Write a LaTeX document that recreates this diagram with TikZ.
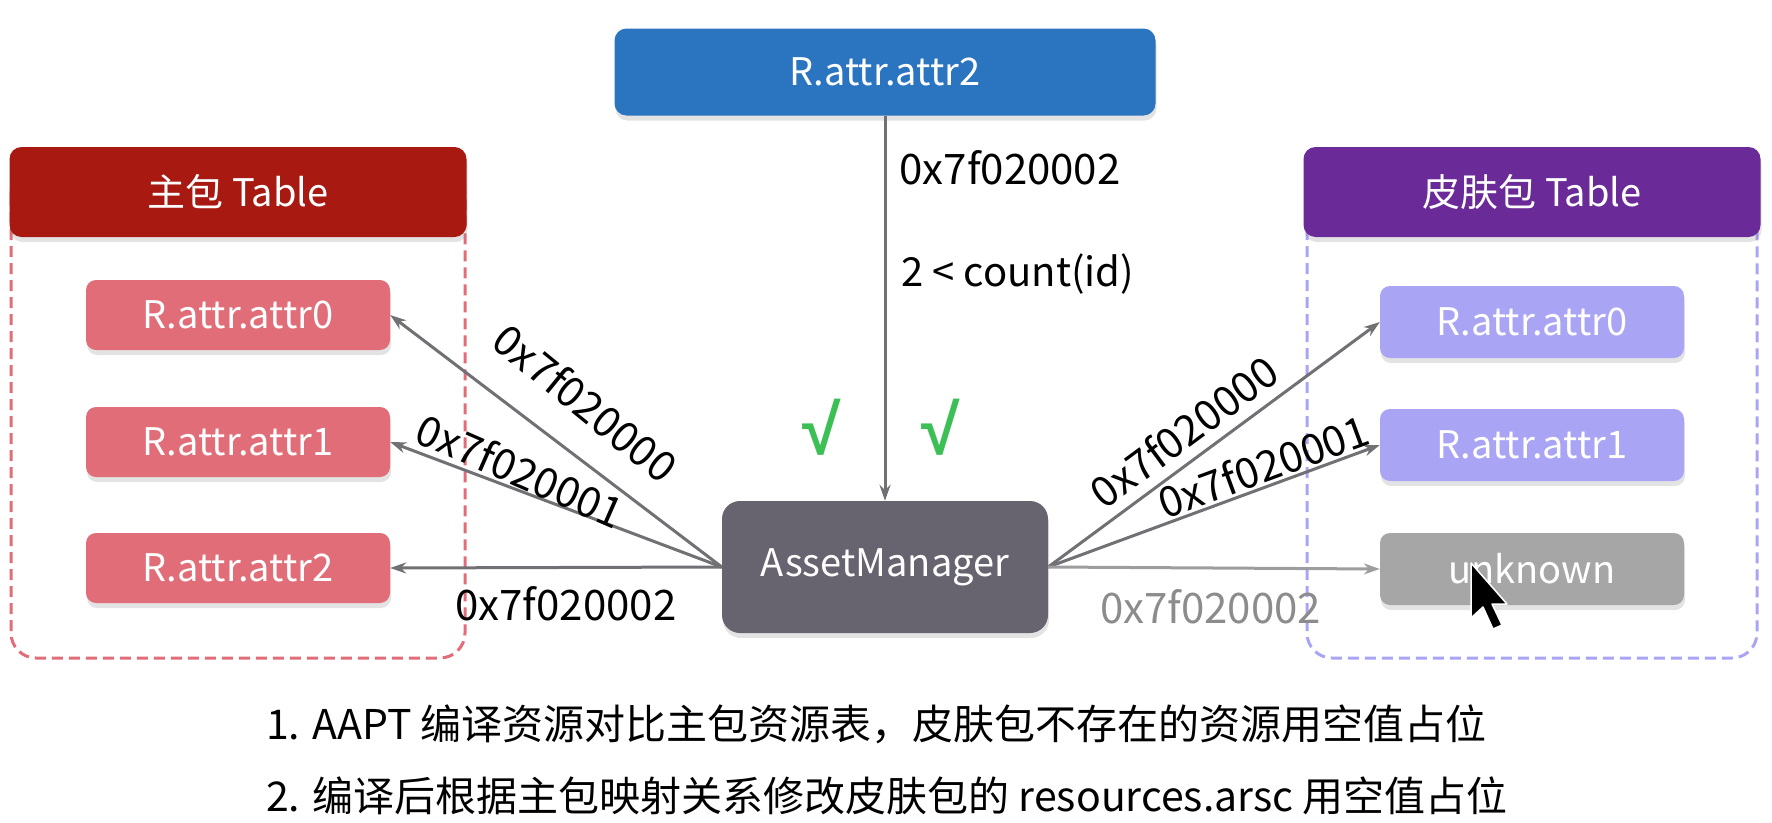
\documentclass[tikz,border=0pt]{standalone}
\usepackage{fontspec}
\setmainfont{Noto Sans CJK SC}
\newfontfamily\chkfont{Liberation Sans}
\usetikzlibrary{arrows.meta,shadows}
\definecolor{topblue}{HTML}{2B74BF}
\definecolor{lred}{HTML}{A81911}
\definecolor{litem}{HTML}{E06D77}
\definecolor{rpurple}{HTML}{6A2A98}
\definecolor{ritem}{HTML}{A9A4F4}
\definecolor{unk}{HTML}{A6A6A6}
\definecolor{amgray}{HTML}{67636F}
\definecolor{arr}{HTML}{707075}
\definecolor{arrlight}{HTML}{9D9DA0}
\definecolor{labgray}{HTML}{8C8C8C}
\definecolor{chk}{HTML}{3CBF55}
\tikzset{
  box/.style={rectangle, rounded corners=12pt, text=white, inner sep=0pt,
    font=\fontsize{38}{46}\selectfont,
    drop shadow={opacity=0.22, shadow xshift=1pt, shadow yshift=-5pt}},
  conn/.style={draw=arr, line width=3pt, -{Stealth[length=16pt,width=11pt]}},
  lab/.style={font=\fontsize{42}{50}\selectfont, text=black, inner sep=0pt},
  note/.style={font=\fontsize{41}{50}\selectfont, text=black, inner sep=0pt},
  chkmark/.style={font=\chkfont\fontsize{70}{80}\selectfont\bfseries, text=chk, inner sep=0pt},
  dashbox/.style={line width=3pt, dash pattern=on 11pt off 6pt, rounded corners=25pt}
}
\begin{document}
\begin{tikzpicture}[x=1pt,y=-1pt]
\useasboundingbox (0,0) rectangle (1772,822);
% containers
\draw[dashbox, draw=litem] (11,170) rectangle (465,658);
\draw[dashbox, draw=ritem] (1307,170) rectangle (1757,658);
% nodes
\node[box, fill=topblue, minimum width=541pt, minimum height=87pt] (top) at (885,72) {R.attr.attr2};
\node[box, fill=lred, minimum width=457pt, minimum height=90pt] (lhead) at (238,192) {主包 Table};
\node[box, fill=rpurple, minimum width=457pt, minimum height=90pt] (rhead) at (1532,192) {皮肤包 Table};
\node[box, fill=litem, minimum width=304pt, minimum height=70pt, rounded corners=10pt] (la0) at (238,315) {R.attr.attr0};
\node[box, fill=litem, minimum width=304pt, minimum height=70pt, rounded corners=10pt] (la1) at (238,442) {R.attr.attr1};
\node[box, fill=litem, minimum width=304pt, minimum height=70pt, rounded corners=10pt] (la2) at (238,568) {R.attr.attr2};
\node[box, fill=ritem, minimum width=304pt, minimum height=72pt, rounded corners=10pt] (ra0) at (1532,322) {R.attr.attr0};
\node[box, fill=ritem, minimum width=304pt, minimum height=72pt, rounded corners=10pt] (ra1) at (1532,445) {R.attr.attr1};
\node[box, fill=unk, minimum width=304pt, minimum height=72pt, rounded corners=10pt] (runk) at (1532,569) {unknown};
\node[box, fill=amgray, minimum width=326pt, minimum height=132pt, rounded corners=18pt] (am) at (885,567) {AssetManager};
% connectors
\draw[conn] (top.south) -- (am.north)
  node[lab, pos=0.135, anchor=west, xshift=13pt] {0x7f020002}
  node[lab, font=\fontsize{40}{48}\selectfont, pos=0.41, anchor=west, xshift=15pt] {2 < count(id)};
\draw[conn] (am.west) -- (la0.east)
  node[lab, pos=0.5, sloped, above=30pt, rotate=-2] {0x7f020000};
\draw[conn] (am.west) -- (la1.east)
  node[lab, pos=0.63, sloped, above=1pt, rotate=-3] {0x7f020001};
\draw[conn] (am.west) -- (la2.east)
  node[lab, pos=0.47, below=18pt] {0x7f020002};
\draw[conn] (am.east) -- (ra0.west)
  node[lab, pos=0.46, sloped, above=10pt] {0x7f020000};
\draw[conn] (am.east) -- (ra1.west)
  node[lab, pos=0.67, sloped, above=2pt] {0x7f020001};
\draw[conn, draw=arrlight] (am.east) -- (runk.west)
  node[lab, text=labgray, pos=0.49, below=20pt] {0x7f020002};
% checks
\node[chkmark] (c1) at (822,427) {√};
\node[chkmark] (c2) at (941,427) {√};
% cursor
\fill[black, draw=white, line width=1.5pt, line join=round]
  (1471,563) -- (1471,618) -- (1483,607) -- (1493,629) -- (1502,625) -- (1492,604) -- (1507,604) -- cycle;
% notes
\node[note, anchor=west] (n1) at (266,724) {1. AAPT 编译资源对比主包资源表，皮肤包不存在的资源用空值占位};
\node[note, anchor=west] (n2) at (266,796) {2. 编译后根据主包映射关系修改皮肤包的 resources.arsc 用空值占位};
\end{tikzpicture}
\end{document}
